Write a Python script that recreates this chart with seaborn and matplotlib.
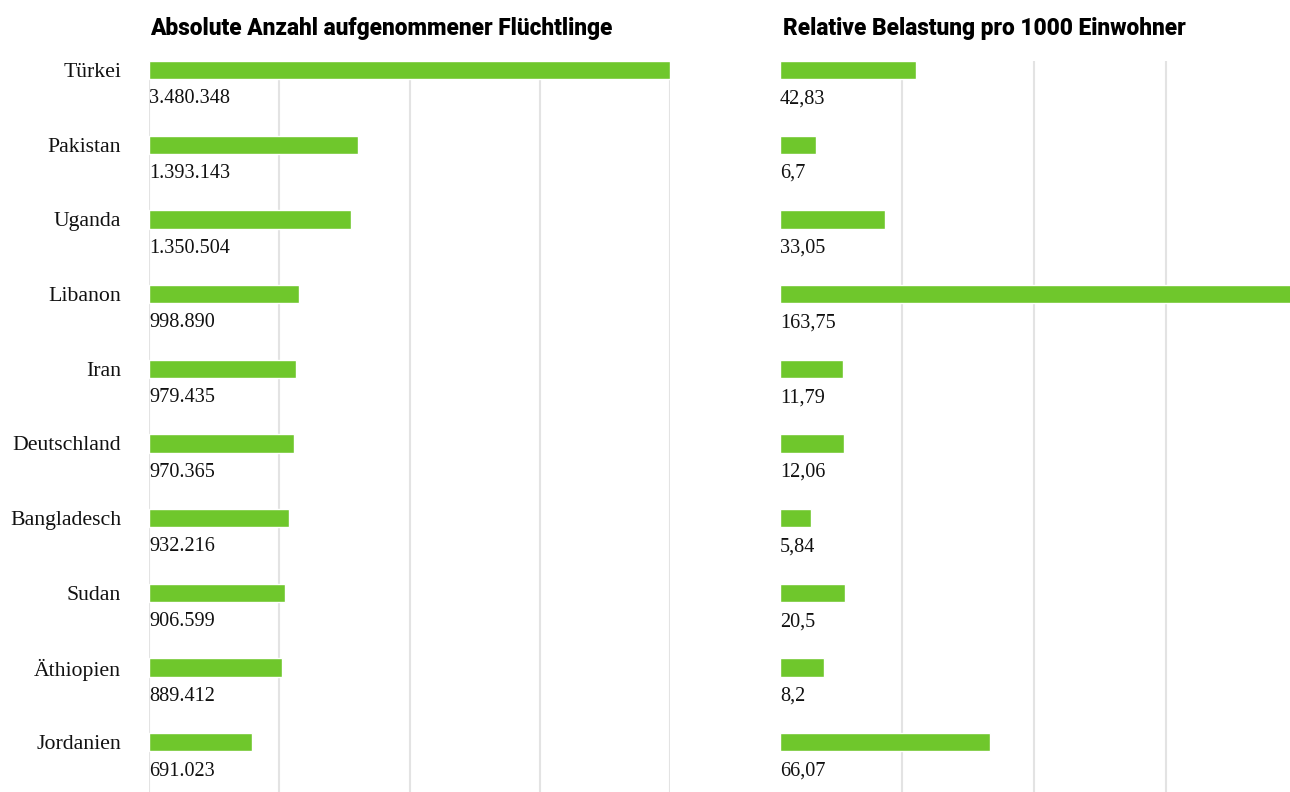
import matplotlib
matplotlib.use("Agg")
import matplotlib.pyplot as plt
import seaborn as sns
import pandas as pd

countries = ["Türkei", "Pakistan", "Uganda", "Libanon", "Iran", "Deutschland",
             "Bangladesch", "Sudan", "Äthiopien", "Jordanien"]
absolute = [3480348, 1393143, 1350504, 998890, 979435, 970365, 932216, 906599, 889412, 691023]
# bar lengths as drawn in the original graphic
relative_bar = [42.83, 11.35, 33.05, 163.75, 19.85, 20.15, 9.8, 20.5, 13.9, 66.07]
abs_labels = ["3.480.348", "1.393.143", "1.350.504", "998.890", "979.435", "970.365",
              "932.216", "906.599", "889.412", "691.023"]
rel_labels = ["42,83", "6,7", "33,05", "163,75", "11,79", "12,06", "5,84", "20,5", "8,2", "66,07"]
title_left = "Absolute Anzahl aufgenommener Flüchtlinge"
title_right = "Relative Belastung pro 1000 Einwohner"

df = pd.DataFrame({"Land": countries, "Absolut": absolute, "Relativ": relative_bar})

sns.set_theme(style="white")
GREEN = "#6FC72C"
GRID = "#e3e3e3"
SERIF = ["Liberation Serif", "DejaVu Serif"]

W, H = 1290, 792
fig = plt.figure(figsize=(W / 100, H / 100), dpi=100)

ylim = (9.665, -0.12)

axL = fig.add_axes([149 / W, 0, 521 / W, (792 - 61) / H])
axR = fig.add_axes([780 / W, 0, 510 / W, (792 - 61) / H])

xmaxL = max(absolute)
xmaxR = 160.5
gridL = [xmaxL * k / 4 for k in range(5)]
gridR = [38.4, 79.95, 121.5]

for ax, col, grid, xmax, labels in [
    (axL, "Absolut", gridL, xmaxL, abs_labels),
    (axR, "Relativ", gridR, xmaxR, rel_labels),
]:
    for g in grid:
        ax.axvline(g, color=GRID, lw=1.5, zorder=0)
    sns.barplot(data=df, x=col, y="Land", ax=ax, color=GREEN, orient="h",
                width=0.245, saturation=1, zorder=2)
    ax.set_xlim(0, xmax)
    ax.set_ylim(*ylim)
    ax.set_xlabel("")
    ax.set_ylabel("")
    ax.set_xticks([])
    for s in ax.spines.values():
        s.set_visible(False)
    for i, lab in enumerate(labels):
        ax.text(0, i + 0.385, lab, ha="left", va="center", fontsize=14.6,
                family=SERIF, color="#111111")

axL.tick_params(axis="y", length=0, pad=20)
for t in axL.get_yticklabels():
    t.set_fontfamily(SERIF)
    t.set_fontsize(15.7)
    t.set_color("#111111")
axR.set_yticks([])

title_kw = dict(fontsize=16.3, fontweight=900,
                family=["Roboto", "DejaVu Sans"], va="center", ha="left", color="#000000")
fig.text(150 / W, 1 - 29 / H, title_left, **title_kw)
fig.text(783 / W, 1 - 29 / H, title_right, **title_kw)

fig.savefig("out.png", dpi=100)
